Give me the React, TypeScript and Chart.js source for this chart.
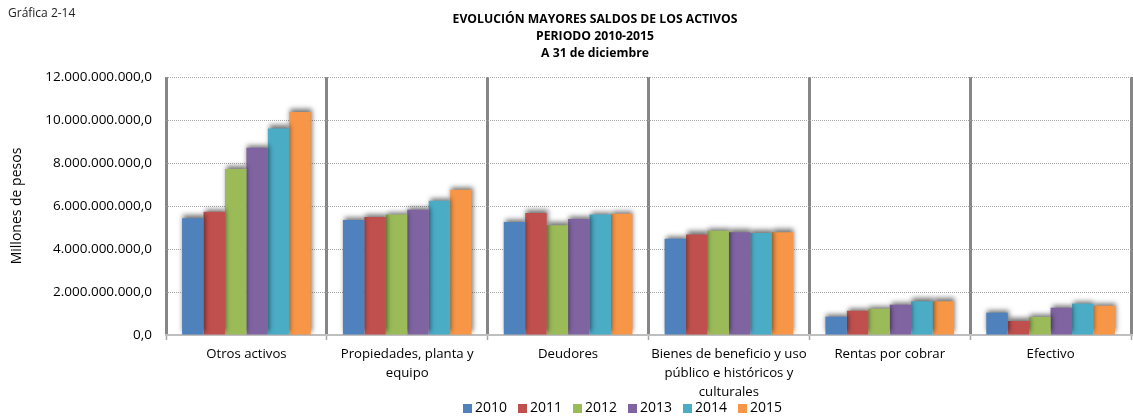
import React, { useEffect, useRef } from "react";
import { Chart, registerables } from "chart.js";

Chart.register(...registerables);

const categories: (string | string[])[] = [
  "Otros activos",
  ["Propiedades, planta y", "equipo"],
  "Deudores",
  ["Bienes de beneficio y uso", "público e históricos y", "culturales"],
  "Rentas por cobrar",
  "Efectivo",
];

const years = ["2010", "2011", "2012", "2013", "2014", "2015"];

const v2010 = [5430000000, 5350000000, 5260000000, 4480000000, 850000000, 1040000000];
const v2011 = [5730000000, 5490000000, 5670000000, 4680000000, 1130000000, 650000000];
const v2012 = [7720000000, 5600000000, 5100000000, 4850000000, 1220000000, 840000000];
const v2013 = [8710000000, 5830000000, 5400000000, 4780000000, 1410000000, 1270000000];
const v2014 = [9610000000, 6250000000, 5600000000, 4740000000, 1570000000, 1460000000];
const v2015 = [10370000000, 6760000000, 5640000000, 4780000000, 1570000000, 1360000000];

const seriesValues = [v2010, v2011, v2012, v2013, v2014, v2015];
const colors = ["#4F81BD", "#C0504D", "#9BBB59", "#8064A2", "#4BACC6", "#F79646"];

const titleLines = ["EVOLUCIÓN MAYORES SALDOS DE LOS ACTIVOS", "PERIODO 2010-2015", "A 31 de diciembre"];
const captionText = "Gráfica 2-14";
const yAxisTitle = "Millones de pesos";

const FONT = "'Open Sans', sans-serif";

function formatTick(v: number): string {
  const s = Math.round(v).toString();
  const withDots = s.replace(/\B(?=(\d{3})+(?!\d))/g, ".");
  return withDots + ",0";
}

const shadowPlugin = {
  id: "barShadow",
  beforeDatasetsDraw(chart: any) {
    const ctx = chart.ctx;
    ctx.save();
    ctx.shadowColor = "rgba(0,0,0,0.55)";
    ctx.shadowBlur = 5;
    ctx.shadowOffsetX = 1;
    ctx.shadowOffsetY = -3;
  },
  afterDatasetsDraw(chart: any) {
    chart.ctx.restore();
  },
};

const decorPlugin = {
  id: "decor",
  afterDraw(chart: any) {
    const ctx = chart.ctx as CanvasRenderingContext2D;
    ctx.save();
    ctx.fillStyle = "#222";
    ctx.textBaseline = "middle";
    ctx.textAlign = "left";
    ctx.font = `12px ${FONT}`;
    ctx.fillText(captionText, 8, 14);

    ctx.fillStyle = "#000";
    ctx.textAlign = "center";
    ctx.font = `bold 12.2px ${FONT}`;
    titleLines.forEach((t, i) => ctx.fillText(t, 595, 20 + i * 17));

    // legend
    ctx.textAlign = "left";
    ctx.font = `14px ${FONT}`;
    years.forEach((y, i) => {
      const x = 463 + i * 55;
      ctx.fillStyle = colors[i];
      ctx.fillRect(x, 404, 9, 9);
      ctx.fillStyle = "#000";
      ctx.fillText(y, x + 12, 408.5);
    });
    ctx.restore();
  },
};

export default function App() {
  const ref = useRef<HTMLCanvasElement | null>(null);

  useEffect(() => {
    document.body.style.margin = "0";
    const canvas = ref.current;
    if (!canvas) return;
    const chart = new Chart(canvas, {
      type: "bar",
      data: {
        labels: categories,
        datasets: years.map((y, i) => ({
          label: y,
          data: seriesValues[i],
          backgroundColor: colors[i],
          borderWidth: 0,
          categoryPercentage: 0.8,
          barPercentage: 1.0,
        })),
      },
      options: {
        animation: false,
        responsive: false,
        maintainAspectRatio: false,
        layout: { padding: { top: 77, right: 2, left: 0, bottom: 0 } },
        plugins: {
          legend: { display: false },
          title: { display: false },
          tooltip: { enabled: false },
        },
        scales: {
          x: {
            afterFit: (s: any) => {
              s.height = 83;
            },
            grid: {
              offset: true,
              color: (c: any) => (c.index === 6 ? "#c8c8c8" : "#868686"),
              lineWidth: (c: any) => (c.index === 6 ? 1 : 3),
              drawTicks: true,
              tickLength: 5,
              tickColor: "#a6a6a6",
              tickWidth: 1.5,
            },
            border: { display: true, color: "#bfbfbf", width: 2 },
            ticks: {
              color: "#000",
              font: { family: FONT, size: 13.2, lineHeight: 1.44 },
              padding: 5,
              maxRotation: 0,
              autoSkip: false,
            },
          },
          y: {
            min: 0,
            max: 12000000000,
            afterFit: (s: any) => {
              s.width = 166;
            },
            grid: {
              color: "#a6a6a6",
              lineWidth: 1,
              drawTicks: false,
            },
            border: { display: false, dash: [1, 1] },
            ticks: {
              stepSize: 2000000000,
              color: "#000",
              padding: 14,
              font: { family: FONT, size: 13.5 },
              callback: (v: any) => formatTick(Number(v)),
            },
            title: {
              display: true,
              text: yAxisTitle,
              color: "#000",
              font: { family: FONT, size: 14 },
              padding: { top: 9, bottom: 0 },
            },
          },
        },
      },
      plugins: [shadowPlugin, decorPlugin],
    });
    return () => chart.destroy();
  }, []);

  return (
    <div style={{ width: 1133, height: 418 }}>
      <canvas ref={ref} width={1133} height={418} style={{ display: "block" }} />
    </div>
  );
}
